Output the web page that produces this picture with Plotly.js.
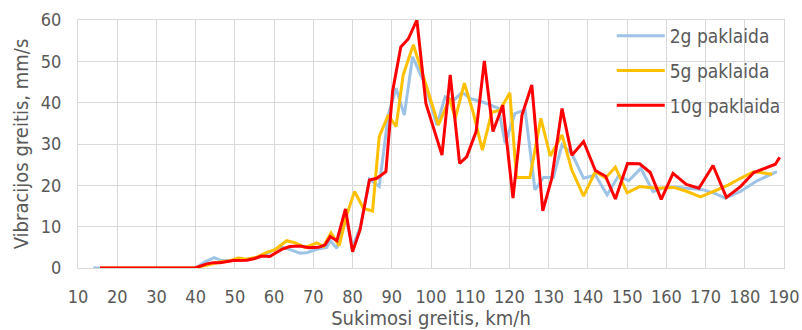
<!DOCTYPE html>
<html>
<head>
<meta charset="utf-8">
<script src="https://cdn.plot.ly/plotly-3.0.1.min.js"></script>
<style>html,body{margin:0;padding:0;background:#fff;}#chart{width:802px;height:330px;}</style>
</head>
<body>
<div id="chart"></div>
<script>
// 2g paklaida
var x2g = [13.9, 40, 42.4, 44.7, 46.6, 49.6, 53, 55.1, 58.1, 61.5, 63.9, 66.6, 68.3, 70.9, 73.4, 74.3, 76, 78.2, 80, 82, 84.3, 86.8, 89.1, 91.1, 93.2, 95.3, 98.5, 101.5, 103.6, 105.7, 107.9, 110, 113.4, 117.2, 118.9, 121.4, 124, 126.5, 128.7, 131.2, 133.4, 135.9, 138.9, 141.9, 144.9, 147.8, 150.4, 153.5, 156.6, 158.9, 162, 166, 169.5, 172.5, 175, 178.9, 183.1, 188.2];
var y2g = [0, 0, 1.5, 2.5, 1.8, 1.8, 2.1, 2.4, 3.4, 5.2, 4.5, 3.6, 3.7, 4.5, 5.0, 6.6, 4.8, 12.5, 5, 10, 21.5, 19.7, 37, 43.5, 37, 51.1, 44.3, 34.6, 41.4, 40.5, 42.5, 41, 40.1, 38.6, 30.2, 37.4, 38.2, 18.9, 21.9, 21.9, 29.8, 27.7, 21.7, 22.5, 17.7, 22.3, 21.1, 24.1, 18.5, 19.3, 19.6, 19.3, 18.9, 18, 16.9, 18.5, 21.1, 23.3];

// 5g paklaida
var x5g = [15.6, 40, 41.1, 43.6, 46.5, 48.5, 50.9, 53, 55.5, 58.1, 60.2, 63.2, 65.3, 67.9, 70.9, 72.6, 74.5, 76.6, 78.5, 80.5, 82.8, 85.1, 86.8, 89.1, 91.1, 92.9, 95.5, 98.5, 101.9, 104.7, 106.2, 108.5, 110.7, 113.1, 115.5, 117.6, 120.1, 121.8, 125.2, 128, 130.4, 133.4, 135.9, 138.9, 141.9, 144.5, 147, 150, 153.2, 157.6, 161.9, 165.3, 168.7, 172.5, 175.9, 178.9, 182.3, 187];
var y5g = [0, 0, 0.3, 0.8, 1.5, 1.7, 2.4, 2.1, 2.6, 3.8, 4.4, 6.6, 6.1, 5.0, 6.1, 5.2, 8.5, 5.4, 12.8, 18.5, 14.4, 13.8, 31.8, 37, 34.2, 46.7, 54, 45, 34.6, 41, 36.2, 44.7, 37.8, 28.5, 37.7, 38.2, 42.4, 21.9, 21.9, 36.2, 27.1, 32.2, 23.7, 17.4, 23.3, 21.8, 24.4, 18.2, 19.7, 19.3, 19.5, 18.5, 17.2, 18.7, 20.1, 21.7, 23.3, 22.7];

// 10g paklaida
var x10g = [15.6, 39.8, 42.8, 44.5, 46.2, 49.6, 53, 55.1, 56.8, 58.9, 61.9, 64, 66.6, 68.9, 71.3, 73, 74.3, 76, 78.2, 80, 81.9, 84.3, 86.2, 88.5, 90.2, 92.3, 94.2, 96.4, 98.7, 100.7, 102.8, 104.9, 107.3, 109.1, 111.5, 113.6, 115.8, 118.3, 120.9, 123.2, 125.7, 128.5, 130.8, 133.4, 135.9, 138.9, 141.9, 144.5, 147, 150.1, 153.2, 155.9, 158.7, 161.7, 165.1, 168.3, 171.9, 175.3, 178.9, 182.3, 185.3, 187.8, 188.9];
var y10g = [0, 0, 1.0, 1.3, 1.3, 1.8, 1.9, 2.3, 2.9, 2.8, 4.5, 5.2, 5.3, 4.9, 5.0, 5.6, 7.6, 6.6, 14.3, 3.9, 9.2, 21.3, 21.7, 23.3, 42.7, 53.5, 55.4, 60, 39.8, 33.5, 27.3, 46.7, 25.3, 26.9, 33, 50.1, 33, 39.4, 16.9, 37, 44.3, 13.8, 21.7, 38.6, 27.3, 30.6, 23.6, 22.2, 16.7, 25.3, 25.2, 23.1, 16.6, 22.9, 20.2, 19.3, 24.8, 17.1, 19.7, 23.1, 24.1, 25.1, 26.8];

var seriesNames = ["2g paklaida", "5g paklaida", "10g paklaida"];
var xTicks = [10, 20, 30, 40, 50, 60, 70, 80, 90, 100, 110, 120, 130, 140, 150, 160, 170, 180, 190];
var yTicks = [0, 10, 20, 30, 40, 50, 60];

var FONT = "'Liberation Sans Narrow', 'Arial Narrow', 'DejaVu Sans Condensed', 'Liberation Sans', Arial, sans-serif";
var TXT = "#595959";
var GRID = "#D9D9D9";

var traces = [
  {x: x2g, y: y2g, name: seriesNames[0], mode: "lines", line: {color: "#9DC3E6", width: 3}, legendgroup: "a"},
  {x: x5g, y: y5g, name: seriesNames[1], mode: "lines", line: {color: "#FFC000", width: 3}, legendgroup: "b"},
  {x: x10g, y: y10g, name: seriesNames[2], mode: "lines", line: {color: "#FF0000", width: 3}, legendgroup: "c"}
];

var layout = {
  width: 802, height: 330,
  margin: {l: 78, r: 18, t: 20, b: 62},
  paper_bgcolor: "#fff", plot_bgcolor: "#fff",
  font: {family: FONT, color: TXT, size: 18},
  showlegend: true,
  legend: {x: 0.756, y: 1.012, xanchor: "left", yanchor: "top", bgcolor: "rgba(0,0,0,0)",
           font: {family: FONT, size: 19, color: TXT}, tracegroupgap: 7, itemwidth: 48},
  xaxis: {range: [10, 190], tickvals: xTicks, ticktext: xTicks.map(String), showgrid: true, gridcolor: GRID, gridwidth: 1,
          showline: true, linecolor: GRID, linewidth: 1, mirror: true, zeroline: false, ticks: "",
          tickfont: {family: FONT, size: 18, color: TXT}, ticklabelstandoff: 12,
          title: {text: "Sukimosi greitis, km/h", font: {family: FONT, size: 20, color: TXT}, standoff: 4}},
  yaxis: {range: [0, 60], tickvals: yTicks, ticktext: yTicks.map(String), showgrid: true, gridcolor: GRID, gridwidth: 1,
          showline: true, linecolor: GRID, linewidth: 1, mirror: true, zeroline: false, ticks: "",
          tickfont: {family: FONT, size: 18, color: TXT}, ticklabelstandoff: 12,
          title: {text: "Vibracijos greitis, mm/s", font: {family: FONT, size: 20, color: TXT}, standoff: 6}}
};

Plotly.newPlot("chart", traces, layout, {staticPlot: true, displayModeBar: false});
</script>
</body>
</html>
